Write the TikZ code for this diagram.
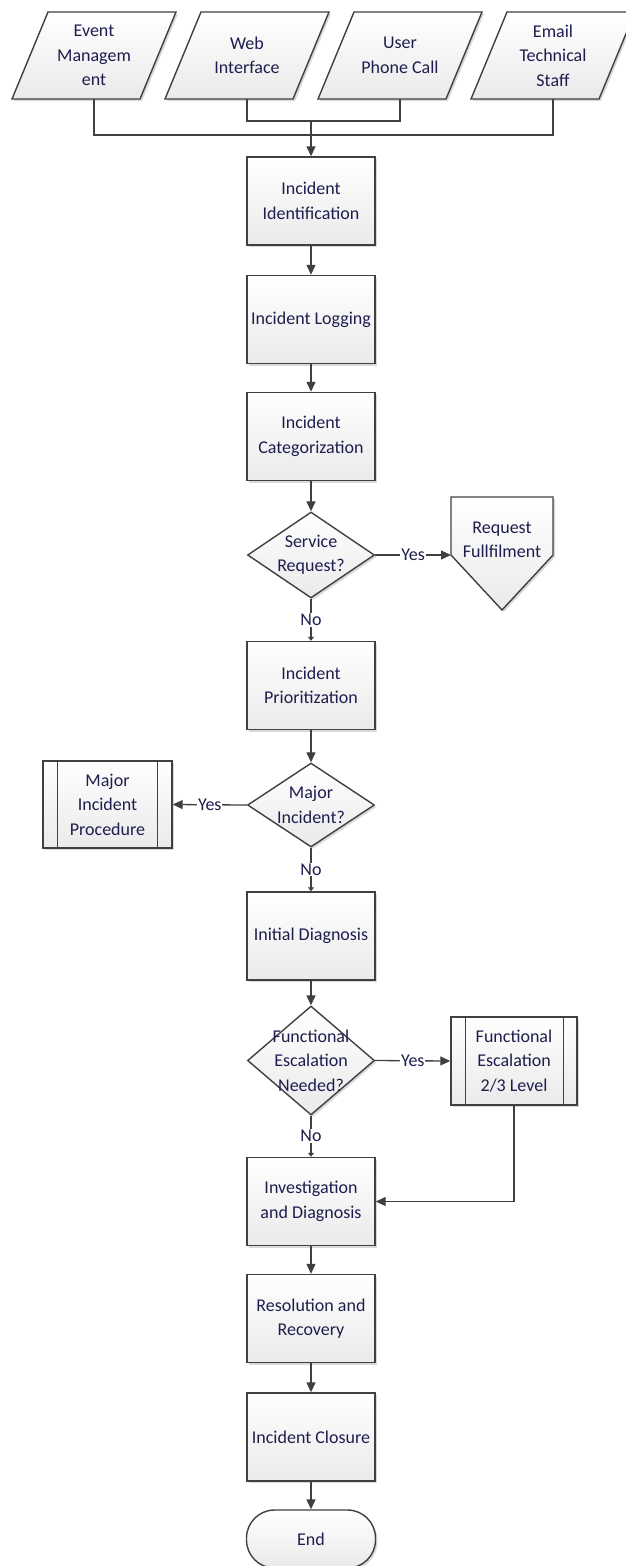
\documentclass[tikz,border=0pt]{standalone}
\usepackage{fontspec}
\setmainfont{Carlito}
\usetikzlibrary{shapes.geometric,arrows.meta,shadows,calc}

\definecolor{ink}{RGB}{30,30,78}
\definecolor{edge}{RGB}{64,64,64}
\definecolor{shade}{RGB}{234,234,234}

\tikzset{
  x=1pt, y=-1pt,
  txt/.style={text=ink, font=\fontsize{18}{24.5}\selectfont, align=center},
  shapefill/.style={draw=edge, line width=1.4pt, top color=white, bottom color=shade,
    drop shadow={shadow xshift=2pt, shadow yshift=-2pt, fill=gray, opacity=0.3}},
  procbox/.style={rectangle, minimum width=128pt, minimum height=88pt, inner sep=0pt, shapefill, txt},
  subproc/.style={procbox},
  decision/.style={diamond, inner sep=0pt, minimum width=127pt, shapefill},
  overlay text/.style={txt, inner sep=0pt},
  terminal/.style={rectangle, rounded corners=28pt, minimum width=129pt, minimum height=58pt,
    inner sep=0pt, shapefill, txt},
  line/.style={draw=edge, line width=1.3pt},
  conn/.style={line, -{Triangle[length=10pt,width=9pt]}},
  shortconn/.style={line, -{Triangle[length=4pt,width=6pt]}},
  lbl/.style={txt, fill=white, inner sep=1pt},
}

\begin{document}
\begin{tikzpicture}
\useasboundingbox (0,0) rectangle (626,1566);

% ---- input sources (parallelograms) ----
\path[shapefill] (12,99) -- (48,12) -- (176,12) -- (140,99) -- cycle;
\node[overlay text, minimum height=87pt] (em) at (94,55.5) {Event\\Managem\\ent};
\path[shapefill] (165,99) -- (201,12) -- (329,12) -- (293,99) -- cycle;
\node[overlay text, minimum height=87pt] (wi) at (247,55.5) {Web\\Interface};
\path[shapefill] (318,99) -- (354,12) -- (482,12) -- (446,99) -- cycle;
\node[overlay text, minimum height=87pt] (upc) at (400,55.5) {User\\Phone Call};
\path[shapefill] (471,99) -- (507,12) -- (635,12) -- (599,99) -- cycle;
\node[overlay text, minimum height=87pt] (ets) at (553,55.5) {Email\\Technical\\Staff};

\coordinate (busA) at (311,135);
\coordinate (busB) at (311,121);

% ---- main column ----
\node[procbox] (ii) at (311,201) {Incident\\Identification};
\node[procbox] (il) at (311,319.5) {Incident Logging};
\node[procbox] (ic) at (311,436.5) {Incident\\Categorization};

\node[decision, minimum height=86pt] (sr) at (311,555) {};
\node[overlay text] (srt) at (311,555) {Service\\Request?};

% request fulfilment (off-page reference)
\path[shapefill] (451,497) -- (553,497) -- (553,555) -- (502,610) -- (451,555) -- cycle;
\node[overlay text] (rf) at (502,540) {Request\\Fullfilment};
\coordinate (rfin) at (451,555);

\node[procbox] (ip) at (311,685.5) {Incident\\Prioritization};

\node[decision, minimum height=84pt] (mi) at (311,805) {};
\node[overlay text] (mit) at (311,805) {Major\\Incident?};

\node[subproc, minimum width=129pt, minimum height=87pt] (mip) at (107.5,804.5) {Major\\Incident\\Procedure};
\draw[line, line width=1.2pt] ($(mip.north west)+(15,0)$) -- ($(mip.south west)+(15,0)$);
\draw[line, line width=1.2pt] ($(mip.north east)+(-15,0)$) -- ($(mip.south east)+(-15,0)$);

\node[procbox] (id) at (311,936) {Initial Diagnosis};

\node[decision, minimum height=109pt] (fe) at (311,1060.5) {};
\node[overlay text] (fet) at (311,1060.5) {Functional\\Escalation\\Needed?};

\node[subproc, minimum width=126pt] (fel) at (514,1061) {Functional\\Escalation\\2/3 Level};
\draw[line, line width=1.2pt] ($(fel.north west)+(15,0)$) -- ($(fel.south west)+(15,0)$);
\draw[line, line width=1.2pt] ($(fel.north east)+(-14,0)$) -- ($(fel.south east)+(-14,0)$);

\node[procbox] (inv) at (311,1201.5) {Investigation\\and Diagnosis};
\node[procbox] (rr) at (311,1318.5) {Resolution and\\Recovery};
\node[procbox] (cl) at (311,1437) {Incident Closure};
\node[terminal] (end) at (311,1539) {End};

% ---- connectors ----
\draw[line] (em.south) |- (busA) -| (ets.south);
\draw[line] (wi.south) |- (busB) -| (upc.south);
\draw[conn] (busB) -- (ii.north);

\draw[conn] (ii.south) -- (il.north);
\draw[conn] (il.south) -- (ic.north);
\draw[conn] (ic.south) -- (sr.north);
\draw[conn] (sr.east) -- node[lbl] {Yes} (rfin);
\draw[shortconn] (sr.south) -- node[lbl] {No} (ip.north);
\draw[conn] (ip.south) -- (mi.north);
\draw[conn] (mi.west) -- node[lbl] {Yes} (mip.east);
\draw[shortconn] (mi.south) -- node[lbl] {No} (id.north);
\draw[conn] (id.south) -- (fe.north);
\draw[conn] (fe.east) -- node[lbl] {Yes} (fel.west);
\draw[shortconn] (fe.south) -- node[lbl] {No} (inv.north);
\draw[conn] (fel.south) |- (inv.east);
\draw[conn] (inv.south) -- (rr.north);
\draw[conn] (rr.south) -- (cl.north);
\draw[conn] (cl.south) -- (end.north);
\end{tikzpicture}
\end{document}
